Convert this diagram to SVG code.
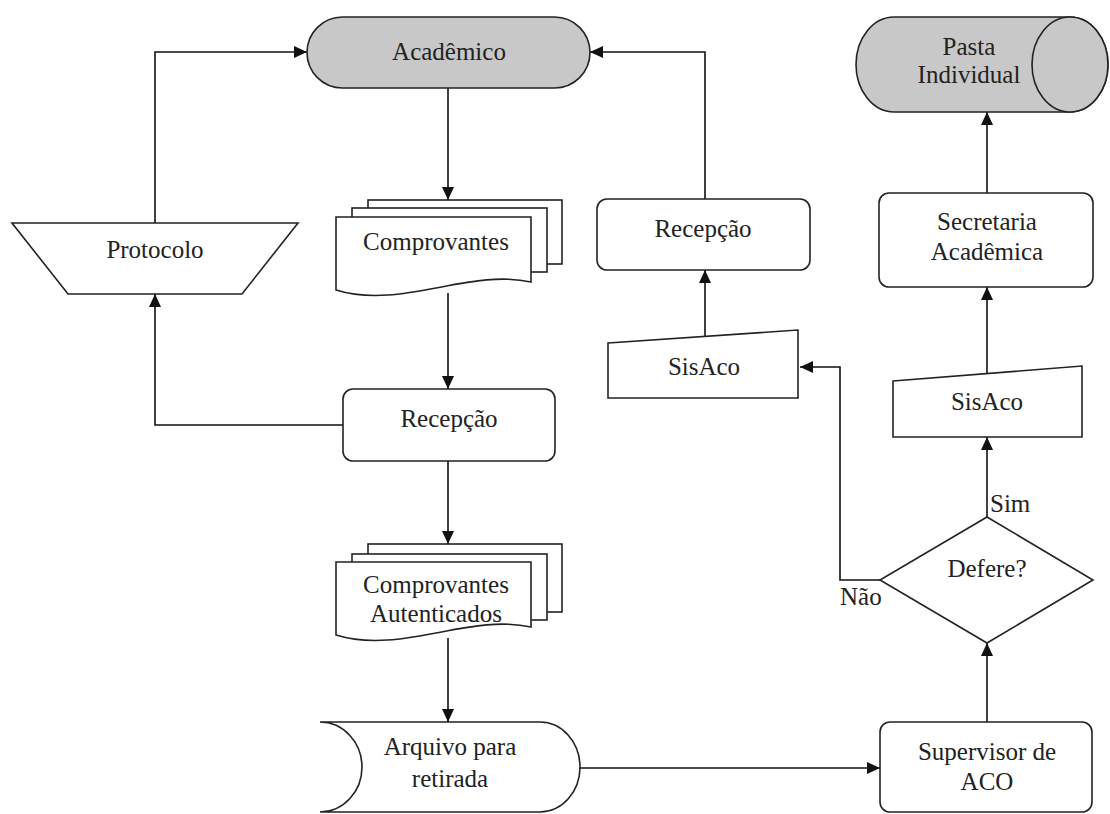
<svg xmlns="http://www.w3.org/2000/svg" width="1110" height="814" viewBox="0 0 1110 814">
<defs>
<marker id="arr" markerUnits="userSpaceOnUse" markerWidth="14" markerHeight="12" refX="13" refY="6" orient="auto">
<path d="M0,0 L13,6 L0,12 Z" fill="#111"/>
</marker>
<style>
.s{fill:#fff;stroke:#222;stroke-width:1.6}
.g{fill:#c8c8c8;stroke:#222;stroke-width:1.6}
text{font-family:'Liberation Serif','Tinos','Times New Roman','DejaVu Serif',serif;font-size:25px;fill:#222}
.t{text-anchor:middle}
.c{fill:none;stroke:#111;stroke-width:1.6;marker-end:url(#arr)}
</style>
</defs>
<rect width="1110" height="814" fill="#fff"/>
<g id="connectors">
<path class="c" d="M448,88 V200"/>
<path class="c" d="M448,293 V389"/>
<path class="c" d="M448,461 V544"/>
<path class="c" d="M448,638 V722"/>
<path class="c" d="M343,425 H155 V294"/>
<path class="c" d="M155,223 V52 H307"/>
<path class="c" d="M705,199 V52 H590"/>
<path class="c" d="M705,336 V270"/>
<path class="c" d="M580,768 H880"/>
<path class="c" d="M987,722 V643"/>
<path class="c" d="M987,517 V437"/>
<path class="c" d="M880,580 H840 V367 H800"/>
<path class="c" d="M987,373 V287"/>
<path class="c" d="M987,193 V112"/>
</g>
<g id="academico">
<rect class="g" x="307" y="17" width="283" height="71" rx="35.5" ry="35.5"/>
<text class="t" x="449" y="60" font-family="Liberation Serif, serif">Acadêmico</text>
</g>
<g id="protocolo">
<path class="s" d="M12,223 H298 L242,294 H68 Z"/>
<text class="t" x="155" y="258">Protocolo</text>
</g>
<g id="comprovantes">
<rect class="s" x="368" y="200" width="194" height="64"/>
<rect class="s" x="352" y="208" width="195" height="64"/>
<path class="s" d="M336,217 H531 V282 C470,268 400,310 336,290 Z"/>
<text class="t" x="436" y="250">Comprovantes</text>
</g>
<g id="recepcao1">
<rect class="s" x="343" y="389" width="212" height="72" rx="10" ry="10"/>
<text class="t" x="449" y="427">Recepção</text>
</g>
<g id="comprovantes-autenticados">
<rect class="s" x="368" y="544" width="194" height="68"/>
<rect class="s" x="352" y="554" width="195" height="66"/>
<path class="s" d="M336,562 H531 V627 C470,613 400,655 336,635 Z"/>
<text class="t" x="436" y="593">Comprovantes</text>
<text class="t" x="436" y="622">Autenticados</text>
</g>
<g id="arquivo">
<path class="s" d="M320,722 H540 A40,45 0 0 1 540,812 H320 A42,45 0 0 0 320,722 Z"/>
<text class="t" x="450" y="755">Arquivo para</text>
<text class="t" x="450" y="787">retirada</text>
</g>
<g id="supervisor">
<rect class="s" x="880" y="722" width="212" height="90" rx="10" ry="10"/>
<text class="t" x="987" y="760">Supervisor de</text>
<text class="t" x="987" y="790">ACO</text>
</g>
<g id="defere">
<path class="s" d="M987,517 L1093,580 L987,643 L880,580 Z"/>
<text class="t" x="987" y="577">Defere?</text>
<text x="990" y="512">Sim</text>
<text x="840" y="605">Não</text>
</g>
<g id="sisaco2">
<path class="s" d="M893,381 L1082,366 V437 H893 Z"/>
<text class="t" x="987" y="410">SisAco</text>
</g>
<g id="secretaria">
<rect class="s" x="879" y="193" width="214" height="94" rx="10" ry="10"/>
<text class="t" x="987" y="230">Secretaria</text>
<text class="t" x="987" y="260">Acadêmica</text>
</g>
<g id="pasta">
<path class="g" d="M894,17 H1070 A38,47.5 0 0 1 1070,112 H894 A38,47.5 0 0 1 894,17 Z"/>
<ellipse class="g" cx="1070" cy="64.5" rx="38" ry="47.5"/>
<text class="t" x="969" y="55">Pasta</text>
<text class="t" x="969" y="83">Individual</text>
</g>
<g id="recepcao2">
<rect class="s" x="597" y="199" width="213" height="71" rx="10" ry="10"/>
<text class="t" x="703" y="237">Recepção</text>
</g>
<g id="sisaco1">
<path class="s" d="M608,343 L798,330 V398 H608 Z"/>
<text class="t" x="704" y="375">SisAco</text>
</g>
</svg>
